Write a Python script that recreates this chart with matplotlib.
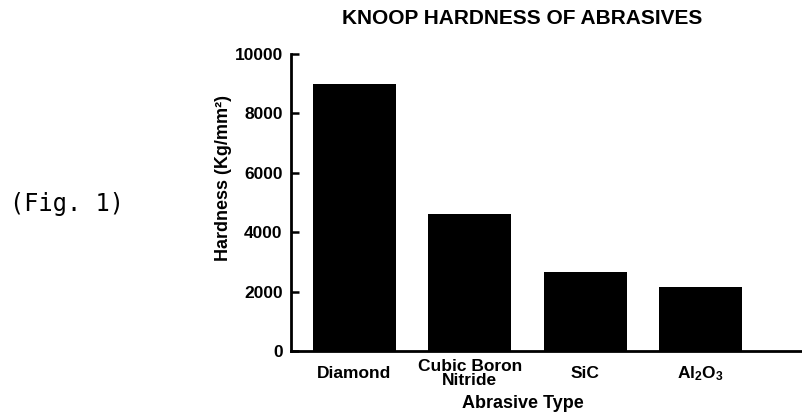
import matplotlib
matplotlib.use("Agg")
import matplotlib.pyplot as plt

# data
abrasives = ["Diamond", "Cubic Boron\nNitride", "SiC", r"Al$_2$O$_3$"]
hardness = [9000, 4620, 2650, 2150]
yticks = [0, 2000, 4000, 6000, 8000, 10000]

plt.rcParams['font.family'] = ['Liberation Sans', 'DejaVu Sans']
plt.rcParams['font.weight'] = 'bold'
plt.rcParams['mathtext.fontset'] = 'custom'
plt.rcParams['mathtext.rm'] = 'Liberation Sans:bold'
plt.rcParams['mathtext.it'] = 'Liberation Sans:bold'
plt.rcParams['mathtext.bf'] = 'Liberation Sans:bold'

W, H = 802, 418
fig = plt.figure(figsize=(W / 100, H / 100), dpi=100)

# axes placed from pixel positions of the reference
x0, x1 = 291, 802
ybase, ytop = 351, 54
ax = fig.add_axes([x0 / W, (H - ybase) / H, (x1 - x0) / W, (ybase - ytop) / H])

pos = list(range(len(abrasives)))
ax.bar(pos, hardness, width=0.72, color='black')
ax.set_xlim(-0.55, 3.88)
ax.set_ylim(0, 10000)

for s in ['top', 'right']:
    ax.spines[s].set_visible(False)
for s in ['left', 'bottom']:
    ax.spines[s].set_linewidth(2.0)
    ax.spines[s].set_color('black')

ax.set_yticks(yticks)
ax.set_yticklabels([str(v) for v in yticks], fontsize=12.5, fontweight='bold')
ax.tick_params(axis='y', direction='in', length=6, width=1.8, pad=6)

ax.set_xticks(pos)
ax.set_xticklabels(abrasives, fontsize=12.5, fontweight='bold', linespacing=0.95)
ax.tick_params(axis='x', length=0, pad=16)
for lab in ax.get_xticklabels():
    lab.set_verticalalignment('center')

fig.text(522 / W, 1 - 18 / H, "KNOOP HARDNESS OF ABRASIVES", ha='center', va='center',
         fontsize=15, fontweight='bold')
fig.text(523 / W, 1 - 404 / H, "Abrasive Type", ha='center', va='center',
         fontsize=13, fontweight='bold')
fig.text(224 / W, 1 - 178 / H, "Hardness (Kg/mm²)", ha='center', va='center',
         rotation=90, fontsize=13, fontweight='bold')
fig.text(67 / W, 1 - 204 / H, "(Fig. 1)", ha='center', va='center',
         fontsize=17, fontweight='normal', family=['DejaVu Sans Mono'])

fig.savefig("out.png", dpi=100)
